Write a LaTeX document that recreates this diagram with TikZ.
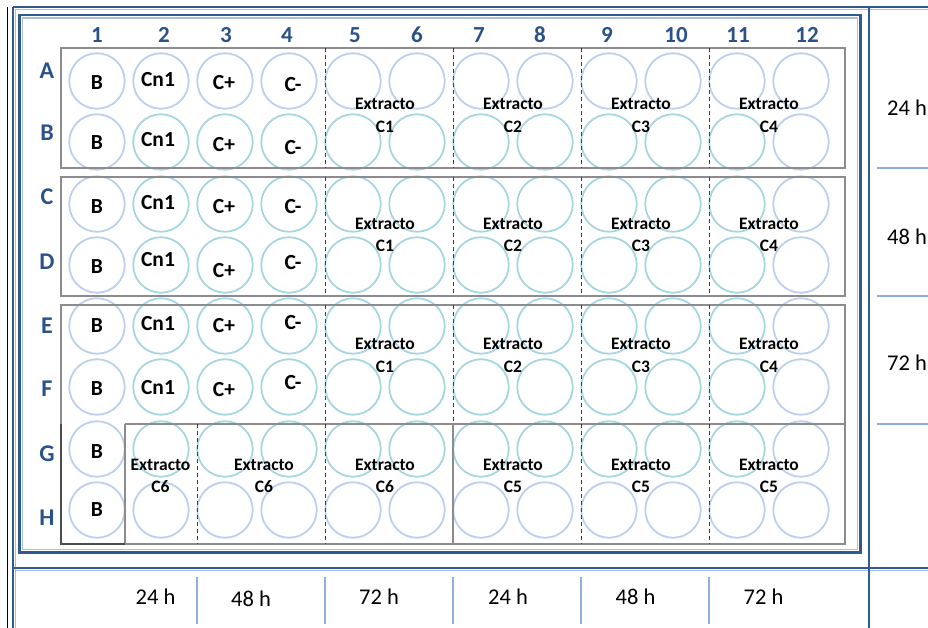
\documentclass[tikz,border=0pt]{standalone}
\usepackage{fontspec}
\setmainfont{Carlito}
\definecolor{dblue}{HTML}{2F5A92}
\definecolor{lblue}{HTML}{A9C0E0}
\definecolor{sepblue}{HTML}{8FAFD8}
\definecolor{wellA}{HTML}{BCD0EE}
\definecolor{wellB}{HTML}{A6D6E1}
\definecolor{lblcol}{HTML}{2A5189}
\definecolor{boxgray}{HTML}{8C8C8C}
\begin{document}
\begin{tikzpicture}[x=1pt,y=-1pt,
  colnum/.style={font=\fontsize{23}{23}\selectfont\bfseries, text=lblcol, inner sep=0pt},
  rowlab/.style={font=\fontsize{24}{24}\selectfont\bfseries, text=lblcol, inner sep=0pt},
  welltxt/.style={font=\fontsize{21.5}{21.5}\selectfont\bfseries, inner sep=0pt},
  extr/.style={font=\fontsize{17.5}{17.5}\selectfont\bfseries, inner sep=0pt, anchor=base},
  hour/.style={font=\fontsize{22.5}{22.5}\selectfont, inner sep=0pt},
  plate/.style={draw=boxgray, line width=1.1pt},
  divd/.style={draw=black!75, dash pattern=on 4pt off 3pt, line width=1pt},
  tbar/.style={draw=dblue, line width=2.2pt},
  fringe/.style={draw=lblue, line width=1.3pt},
  sep/.style={draw=sepblue, line width=1.5pt},
  well/.style={circle, line width=1.8pt, minimum size=55.5pt, inner sep=0pt}
]
\useasboundingbox (0,0) rectangle (928,628);

% outer table lines
\draw[black, line width=0.8pt] (7.5,7) -- (7.5,628);
\draw[fringe] (15.5,9.5) -- (928,9.5);
\draw[fringe] (15.5,9.5) -- (15.5,628);
\draw[fringe] (15.5,570.5) -- (928,570.5);
\draw[tbar] (13,7) -- (928,7);
\draw[tbar] (13,7) -- (13,628);
\draw[tbar] (869,7) -- (869,628);
\draw[tbar] (13,568) -- (928,568);

% inner frame
\draw[tbar] (19.5,15) rectangle (860.5,552.5);
\draw[fringe] (22.5,18) rectangle (857.5,549.5);

% right column separators
\draw[sep] (877,168) -- (928,168);
\draw[sep] (877,296) -- (928,296);
\draw[sep] (877,424) -- (928,424);

% bottom separators
\foreach \x in {197,325,453,581,709} \draw[sep] (\x,577) -- (\x,624);

% wells
\foreach \r/\yy in {0/81,1/142,2/204,3/265,4/326,5/387,6/449,7/510} {
  \foreach \c in {1,...,12} {
    \pgfmathtruncatemacro\edge{or(or(\c==1,\c==12),or(\r==0,\r==7))}
    \ifnum\edge=1 \def\wc{wellA}\else\def\wc{wellB}\fi
    \node[well, draw=\wc] (w\r-\c) at ({97+64*(\c-1)},\yy) {};
  }
}

% plate blocks
\draw[plate] (61,48) rectangle (845,168);
\draw[plate] (61,177) rectangle (845,296);
\draw[plate] (61,544) -- (61,305) -- (845,305) -- (845,544) -- cycle;
\draw[plate] (125,424) -- (845,424);
\draw[plate] (125,424) -- (125,544);
\draw[plate] (453,424) -- (453,544);
\draw[draw=black!70, line width=1.1pt] (61,424) -- (61,544) -- (125,544);

% dashed dividers
\foreach \ya/\yb in {48/168,177/296,305/424} {
  \foreach \x in {325,453,581,709} \draw[divd] (\x,\ya) -- (\x,\yb);
}
\foreach \x in {197,325,581,709} \draw[divd] (\x,424) -- (\x,544);

% column numbers
\foreach \c/\x in {1/97,2/164,3/226,4/287,5/355,6/417,7/479,8/540,9/607,10/676,11/738,12/807}
  \node[colnum] (col\c) at (\x,35) {\c};

% row labels
\foreach \l/\y in {A/71,B/133,C/197,D/262,E/326,F/389,G/454,H/518}
  \node[rowlab] (row\l) at (47,\y) {\l};

% well labels
\foreach \r/\yb/\yn/\yp/\ym in {A/83/80/83/85,B/143/140/145/148,C/207/203/207/207,D/267/260/271/263,E/326/324/326/323,F/389/388/390/383} {
  \node[welltxt] (b\r) at (97,\yb) {B};
  \node[welltxt] (n\r) at (158,\yn) {Cn1};
  \node[welltxt] (p\r) at (224,\yp) {C+};
  \node[welltxt] (m\r) at (293,\ym) {C-};
}
\node[welltxt] (bG) at (97,452) {B};
\node[welltxt] (bH) at (97,510) {B};

% extract labels
\foreach \blk/\ya/\yb in {1/109.5/132.5,2/229.5/251.5,3/349.5/372.5} {
  \foreach \k/\x in {1/385,2/513,3/641,4/769} {
    \node[extr] (ex\blk-\k) at (\x,\ya) {Extracto};
    \node[extr] (ec\blk-\k) at (\x,\yb) {C\k};
  }
}
\foreach \k/\x/\lab in {1/160.5/C6,2/264/C6,3/385/C6,4/513/C5,5/641/C5,6/769/C5} {
  \node[extr] (exg\k) at (\x,470) {Extracto};
  \node[extr] (ecg\k) at (\x,492.5) {\lab};
}

% hours right
\node[hour] (r24) at (907,108) {24 h};
\node[hour] (r48) at (907,237) {48 h};
\node[hour] (r72) at (907,363) {72 h};

% hours bottom
\node[hour] (b24a) at (155.5,597) {24 h};
\node[hour] (b48a) at (251,599) {48 h};
\node[hour] (b72a) at (379,597) {72 h};
\node[hour] (b24b) at (508,597) {24 h};
\node[hour] (b48b) at (635.5,597) {48 h};
\node[hour] (b72b) at (763.5,597) {72 h};
\end{tikzpicture}
\end{document}
